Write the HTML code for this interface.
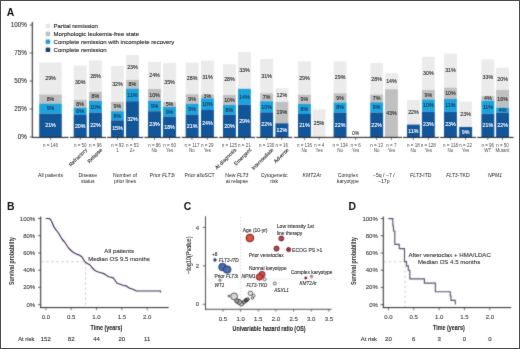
<!DOCTYPE html><html><head><meta charset="utf-8"><title>Figure</title><style>html,body{margin:0;padding:0;background:#fff;overflow:hidden}svg{display:block}text{font-family:"Liberation Sans",sans-serif}</style></head><body>
<div id="w"><svg width="520" height="349" viewBox="0 0 520 349">
<defs><filter id="bl" x="-5%" y="-5%" width="110%" height="110%" color-interpolation-filters="sRGB"><feConvolveMatrix order="3" kernelMatrix="1 2 1 2 14 2 1 2 1" edgeMode="duplicate"/></filter><filter id="tb" x="-5%" y="-5%" width="110%" height="110%" color-interpolation-filters="sRGB"><feConvolveMatrix order="3" kernelMatrix="0 1 0 1 12 1 0 1 0" edgeMode="duplicate"/></filter></defs>
<g filter="url(#bl)">
<rect x="0" y="0" width="520" height="349" fill="#fff"/>
<line x1="32.3" y1="22" x2="32.3" y2="137.6" stroke="#1a1a1a" stroke-width="1"/>
<line x1="29.6" y1="25" x2="32.3" y2="25" stroke="#222" stroke-width="0.7"/>
<line x1="29.6" y1="53" x2="32.3" y2="53" stroke="#222" stroke-width="0.7"/>
<line x1="29.6" y1="81" x2="32.3" y2="81" stroke="#222" stroke-width="0.7"/>
<line x1="29.6" y1="109" x2="32.3" y2="109" stroke="#222" stroke-width="0.7"/>
<line x1="29.6" y1="137" x2="32.3" y2="137" stroke="#222" stroke-width="0.7"/>
<rect x="45.7" y="23.90" width="4.5" height="4.4" fill="#e6e6e6"/>
<rect x="45.7" y="31.70" width="4.5" height="4.4" fill="#bcbcc6"/>
<rect x="45.7" y="39.50" width="4.5" height="4.4" fill="#229bd2"/>
<rect x="45.7" y="47.60" width="4.5" height="4.4" fill="#15406c"/>
<rect x="39.2" y="62.4" width="22.6" height="32.10" fill="#ebebeb"/>
<rect x="39.2" y="94.5" width="22.6" height="9.10" fill="#c0c0c0"/>
<rect x="39.2" y="103.6" width="22.6" height="10.00" fill="#1ea2dc"/>
<rect x="39.2" y="113.6" width="22.6" height="23.40" fill="#12569a"/>
<rect x="73.7" y="65.5" width="13.0" height="34.30" fill="#ebebeb"/>
<rect x="73.7" y="99.8" width="13.0" height="7.80" fill="#c0c0c0"/>
<rect x="73.7" y="107.6" width="13.0" height="7.40" fill="#1ea2dc"/>
<rect x="73.7" y="115.0" width="13.0" height="22.00" fill="#12569a"/>
<rect x="89.0" y="60.4" width="12.9" height="31.60" fill="#ebebeb"/>
<rect x="89.0" y="92.0" width="12.9" height="9.00" fill="#c0c0c0"/>
<rect x="89.0" y="101.0" width="12.9" height="11.50" fill="#1ea2dc"/>
<rect x="89.0" y="112.5" width="12.9" height="24.50" fill="#12569a"/>
<rect x="111.0" y="66.0" width="12.9" height="36.00" fill="#ebebeb"/>
<rect x="111.0" y="102.0" width="12.9" height="9.20" fill="#c0c0c0"/>
<rect x="111.0" y="111.2" width="12.9" height="9.10" fill="#1ea2dc"/>
<rect x="111.0" y="120.3" width="12.9" height="16.70" fill="#12569a"/>
<rect x="126.0" y="54.9" width="12.9" height="25.10" fill="#ebebeb"/>
<rect x="126.0" y="80.0" width="12.9" height="8.60" fill="#c0c0c0"/>
<rect x="126.0" y="88.6" width="12.9" height="12.60" fill="#1ea2dc"/>
<rect x="126.0" y="101.2" width="12.9" height="35.80" fill="#12569a"/>
<rect x="148.0" y="61.9" width="13.0" height="27.10" fill="#ebebeb"/>
<rect x="148.0" y="89.0" width="13.0" height="11.80" fill="#c0c0c0"/>
<rect x="148.0" y="100.8" width="13.0" height="10.40" fill="#1ea2dc"/>
<rect x="148.0" y="111.2" width="13.0" height="25.80" fill="#12569a"/>
<rect x="163.0" y="63.1" width="13.0" height="38.90" fill="#ebebeb"/>
<rect x="163.0" y="102.0" width="13.0" height="5.00" fill="#c0c0c0"/>
<rect x="163.0" y="107.0" width="13.0" height="9.50" fill="#1ea2dc"/>
<rect x="163.0" y="116.5" width="13.0" height="20.50" fill="#12569a"/>
<rect x="185.7" y="62.5" width="12.9" height="31.70" fill="#ebebeb"/>
<rect x="185.7" y="94.2" width="12.9" height="9.60" fill="#c0c0c0"/>
<rect x="185.7" y="103.8" width="12.9" height="10.70" fill="#1ea2dc"/>
<rect x="185.7" y="114.5" width="12.9" height="22.50" fill="#12569a"/>
<rect x="201.0" y="60.5" width="12.9" height="34.00" fill="#ebebeb"/>
<rect x="201.0" y="94.5" width="12.9" height="3.80" fill="#c0c0c0"/>
<rect x="201.0" y="98.3" width="12.9" height="11.70" fill="#1ea2dc"/>
<rect x="201.0" y="110.0" width="12.9" height="27.00" fill="#12569a"/>
<rect x="223.0" y="64.2" width="12.9" height="30.80" fill="#ebebeb"/>
<rect x="223.0" y="95.0" width="12.9" height="10.00" fill="#c0c0c0"/>
<rect x="223.0" y="105.0" width="12.9" height="9.50" fill="#1ea2dc"/>
<rect x="223.0" y="114.5" width="12.9" height="22.50" fill="#12569a"/>
<rect x="238.0" y="52.0" width="12.9" height="36.80" fill="#ebebeb"/>
<rect x="238.0" y="88.8" width="12.9" height="15.90" fill="#1ea2dc"/>
<rect x="238.0" y="104.7" width="12.9" height="32.30" fill="#12569a"/>
<rect x="260.2" y="59.0" width="12.9" height="34.30" fill="#ebebeb"/>
<rect x="260.2" y="93.3" width="12.9" height="7.90" fill="#c0c0c0"/>
<rect x="260.2" y="101.2" width="12.9" height="11.10" fill="#1ea2dc"/>
<rect x="260.2" y="112.3" width="12.9" height="24.70" fill="#12569a"/>
<rect x="275.4" y="88.2" width="13.0" height="13.80" fill="#ebebeb"/>
<rect x="275.4" y="102.0" width="13.0" height="21.30" fill="#c0c0c0"/>
<rect x="275.4" y="123.3" width="13.0" height="13.70" fill="#12569a"/>
<rect x="298.0" y="61.3" width="12.9" height="33.50" fill="#ebebeb"/>
<rect x="298.0" y="94.8" width="12.9" height="9.20" fill="#c0c0c0"/>
<rect x="298.0" y="104.0" width="12.9" height="10.00" fill="#1ea2dc"/>
<rect x="298.0" y="114.0" width="12.9" height="23.00" fill="#12569a"/>
<rect x="312.5" y="109.2" width="13.0" height="27.80" fill="#ebebeb"/>
<rect x="333.6" y="61.3" width="12.9" height="32.00" fill="#ebebeb"/>
<rect x="333.6" y="93.3" width="12.9" height="9.20" fill="#c0c0c0"/>
<rect x="333.6" y="102.5" width="12.9" height="10.00" fill="#1ea2dc"/>
<rect x="333.6" y="112.5" width="12.9" height="24.50" fill="#12569a"/>
<rect x="370.2" y="63.0" width="12.9" height="31.50" fill="#ebebeb"/>
<rect x="370.2" y="94.5" width="12.9" height="7.80" fill="#c0c0c0"/>
<rect x="370.2" y="102.3" width="12.9" height="10.20" fill="#1ea2dc"/>
<rect x="370.2" y="112.5" width="12.9" height="24.50" fill="#12569a"/>
<rect x="385.0" y="73.0" width="12.9" height="16.20" fill="#ebebeb"/>
<rect x="385.0" y="89.2" width="12.9" height="47.80" fill="#c0c0c0"/>
<rect x="407.0" y="100.0" width="12.9" height="24.60" fill="#ebebeb"/>
<rect x="407.0" y="124.6" width="12.9" height="12.40" fill="#12569a"/>
<rect x="421.9" y="56.8" width="12.9" height="33.20" fill="#ebebeb"/>
<rect x="421.9" y="90.0" width="12.9" height="9.50" fill="#c0c0c0"/>
<rect x="421.9" y="99.5" width="12.9" height="12.30" fill="#1ea2dc"/>
<rect x="421.9" y="111.8" width="12.9" height="25.20" fill="#12569a"/>
<rect x="444.0" y="53.5" width="12.9" height="34.20" fill="#ebebeb"/>
<rect x="444.0" y="87.7" width="12.9" height="11.30" fill="#c0c0c0"/>
<rect x="444.0" y="99.0" width="12.9" height="12.80" fill="#1ea2dc"/>
<rect x="444.0" y="111.8" width="12.9" height="25.20" fill="#12569a"/>
<rect x="459.2" y="101.5" width="12.9" height="25.50" fill="#ebebeb"/>
<rect x="459.2" y="127.0" width="12.9" height="10.00" fill="#12569a"/>
<rect x="481.4" y="59.3" width="12.9" height="36.70" fill="#ebebeb"/>
<rect x="481.4" y="96.0" width="12.9" height="4.60" fill="#c0c0c0"/>
<rect x="481.4" y="100.6" width="12.9" height="13.10" fill="#1ea2dc"/>
<rect x="481.4" y="113.7" width="12.9" height="23.30" fill="#12569a"/>
<rect x="496.1" y="67.8" width="12.9" height="22.20" fill="#ebebeb"/>
<rect x="496.1" y="90.0" width="12.9" height="17.60" fill="#c0c0c0"/>
<rect x="496.1" y="107.6" width="12.9" height="4.90" fill="#1ea2dc"/>
<rect x="496.1" y="112.5" width="12.9" height="24.50" fill="#12569a"/>
<line x1="32.30" y1="137.4" x2="68.70" y2="137.4" stroke="#1a1a1a" stroke-width="1"/>
<line x1="50.5" y1="137.3" x2="50.5" y2="140" stroke="#222" stroke-width="0.6"/>
<line x1="70.00" y1="137.4" x2="106.00" y2="137.4" stroke="#1a1a1a" stroke-width="1"/>
<line x1="80.3" y1="137.3" x2="80.3" y2="140" stroke="#222" stroke-width="0.6"/>
<line x1="95.4" y1="137.3" x2="95.4" y2="140" stroke="#222" stroke-width="0.6"/>
<line x1="107.20" y1="137.4" x2="143.20" y2="137.4" stroke="#1a1a1a" stroke-width="1"/>
<line x1="117.5" y1="137.3" x2="117.5" y2="140" stroke="#222" stroke-width="0.6"/>
<line x1="132.4" y1="137.3" x2="132.4" y2="140" stroke="#222" stroke-width="0.6"/>
<line x1="144.40" y1="137.4" x2="180.40" y2="137.4" stroke="#1a1a1a" stroke-width="1"/>
<line x1="154.5" y1="137.3" x2="154.5" y2="140" stroke="#222" stroke-width="0.6"/>
<line x1="169.6" y1="137.3" x2="169.6" y2="140" stroke="#222" stroke-width="0.6"/>
<line x1="181.80" y1="137.4" x2="217.80" y2="137.4" stroke="#1a1a1a" stroke-width="1"/>
<line x1="192.0" y1="137.3" x2="192.0" y2="140" stroke="#222" stroke-width="0.6"/>
<line x1="207.3" y1="137.3" x2="207.3" y2="140" stroke="#222" stroke-width="0.6"/>
<line x1="219.10" y1="137.4" x2="255.10" y2="137.4" stroke="#1a1a1a" stroke-width="1"/>
<line x1="229.4" y1="137.3" x2="229.4" y2="140" stroke="#222" stroke-width="0.6"/>
<line x1="244.4" y1="137.3" x2="244.4" y2="140" stroke="#222" stroke-width="0.6"/>
<line x1="256.30" y1="137.4" x2="292.30" y2="137.4" stroke="#1a1a1a" stroke-width="1"/>
<line x1="266.6" y1="137.3" x2="266.6" y2="140" stroke="#222" stroke-width="0.6"/>
<line x1="281.8" y1="137.3" x2="281.8" y2="140" stroke="#222" stroke-width="0.6"/>
<line x1="294.10" y1="137.4" x2="330.10" y2="137.4" stroke="#1a1a1a" stroke-width="1"/>
<line x1="304.5" y1="137.3" x2="304.5" y2="140" stroke="#222" stroke-width="0.6"/>
<line x1="319.2" y1="137.3" x2="319.2" y2="140" stroke="#222" stroke-width="0.6"/>
<line x1="330.10" y1="137.4" x2="366.10" y2="137.4" stroke="#1a1a1a" stroke-width="1"/>
<line x1="340.1" y1="137.3" x2="340.1" y2="140" stroke="#222" stroke-width="0.6"/>
<line x1="355.6" y1="137.3" x2="355.6" y2="140" stroke="#222" stroke-width="0.6"/>
<line x1="366.00" y1="137.4" x2="402.00" y2="137.4" stroke="#1a1a1a" stroke-width="1"/>
<line x1="376.6" y1="137.3" x2="376.6" y2="140" stroke="#222" stroke-width="0.6"/>
<line x1="391.4" y1="137.3" x2="391.4" y2="140" stroke="#222" stroke-width="0.6"/>
<line x1="403.00" y1="137.4" x2="439.00" y2="137.4" stroke="#1a1a1a" stroke-width="1"/>
<line x1="413.4" y1="137.3" x2="413.4" y2="140" stroke="#222" stroke-width="0.6"/>
<line x1="428.3" y1="137.3" x2="428.3" y2="140" stroke="#222" stroke-width="0.6"/>
<line x1="440.10" y1="137.4" x2="476.10" y2="137.4" stroke="#1a1a1a" stroke-width="1"/>
<line x1="450.5" y1="137.3" x2="450.5" y2="140" stroke="#222" stroke-width="0.6"/>
<line x1="465.6" y1="137.3" x2="465.6" y2="140" stroke="#222" stroke-width="0.6"/>
<line x1="477.20" y1="137.4" x2="513.60" y2="137.4" stroke="#1a1a1a" stroke-width="1"/>
<line x1="487.8" y1="137.3" x2="487.8" y2="140" stroke="#222" stroke-width="0.6"/>
<line x1="502.5" y1="137.3" x2="502.5" y2="140" stroke="#222" stroke-width="0.6"/>
<line x1="40.7" y1="216.5" x2="40.7" y2="308" stroke="#1a1a1a" stroke-width="0.95"/>
<line x1="38.00" y1="218.50" x2="40.7" y2="218.50" stroke="#222" stroke-width="0.7"/>
<line x1="38.00" y1="235.72" x2="40.7" y2="235.72" stroke="#222" stroke-width="0.7"/>
<line x1="38.00" y1="252.94" x2="40.7" y2="252.94" stroke="#222" stroke-width="0.7"/>
<line x1="38.00" y1="270.16" x2="40.7" y2="270.16" stroke="#222" stroke-width="0.7"/>
<line x1="38.00" y1="287.38" x2="40.7" y2="287.38" stroke="#222" stroke-width="0.7"/>
<line x1="38.00" y1="304.60" x2="40.7" y2="304.60" stroke="#222" stroke-width="0.7"/>
<line x1="40.300000000000004" y1="307.6" x2="168.70" y2="307.6" stroke="#1a1a1a" stroke-width="0.95"/>
<line x1="45.80" y1="307.6" x2="45.80" y2="310.3" stroke="#222" stroke-width="0.6"/>
<line x1="71.15" y1="307.6" x2="71.15" y2="310.3" stroke="#222" stroke-width="0.6"/>
<line x1="96.50" y1="307.6" x2="96.50" y2="310.3" stroke="#222" stroke-width="0.6"/>
<line x1="121.85" y1="307.6" x2="121.85" y2="310.3" stroke="#222" stroke-width="0.6"/>
<line x1="147.20" y1="307.6" x2="147.20" y2="310.3" stroke="#222" stroke-width="0.6"/>
<path d="M41.2 261.7 H85.6 V307" fill="none" stroke="#b8b8b8" stroke-width="0.7" stroke-dasharray="2.6 2.4"/>
<polyline points="45.8,218.5 49.2,218.5 50.5,219.5 51.5,221 52.5,223.5 53.8,226.7 56,229.8 58.5,233 60.5,236.5 62.3,239.5 64.2,241.5 66.9,245.5 69,248.5 71.5,251 74,252.8 77.3,254.4 79.5,255.2 81.9,256.8 83.5,259.5 85.4,262.3 87.5,263.5 90,265 92,267.5 94.6,270.3 97,271.5 99.2,272.3 101,272.8 103.8,273.6 106.7,275.5 109.4,277 112.8,277.6 114.8,280 116.8,283 120.2,284.2 122.9,285.2 126.2,285.9 129.6,288.2 133,289.3 136.3,291 160.6,291" fill="none" stroke="#3c2c52" stroke-width="1.15" stroke-linejoin="round"/>
<line x1="160.6" y1="290.5" x2="160.6" y2="292.8" stroke="#45335a" stroke-width="0.8"/>
<line x1="383.3" y1="216.5" x2="383.3" y2="308" stroke="#1a1a1a" stroke-width="0.95"/>
<line x1="380.60" y1="218.50" x2="383.3" y2="218.50" stroke="#222" stroke-width="0.7"/>
<line x1="380.60" y1="235.72" x2="383.3" y2="235.72" stroke="#222" stroke-width="0.7"/>
<line x1="380.60" y1="252.94" x2="383.3" y2="252.94" stroke="#222" stroke-width="0.7"/>
<line x1="380.60" y1="270.16" x2="383.3" y2="270.16" stroke="#222" stroke-width="0.7"/>
<line x1="380.60" y1="287.38" x2="383.3" y2="287.38" stroke="#222" stroke-width="0.7"/>
<line x1="380.60" y1="304.60" x2="383.3" y2="304.60" stroke="#222" stroke-width="0.7"/>
<line x1="382.90000000000003" y1="307.6" x2="511.30" y2="307.6" stroke="#1a1a1a" stroke-width="0.95"/>
<line x1="388.40" y1="307.6" x2="388.40" y2="310.3" stroke="#222" stroke-width="0.6"/>
<line x1="413.75" y1="307.6" x2="413.75" y2="310.3" stroke="#222" stroke-width="0.6"/>
<line x1="439.10" y1="307.6" x2="439.10" y2="310.3" stroke="#222" stroke-width="0.6"/>
<line x1="464.45" y1="307.6" x2="464.45" y2="310.3" stroke="#222" stroke-width="0.6"/>
<line x1="489.80" y1="307.6" x2="489.80" y2="310.3" stroke="#222" stroke-width="0.6"/>
<path d="M383.8 261.8 H405.1 V307" fill="none" stroke="#b8b8b8" stroke-width="0.7" stroke-dasharray="2.6 2.4"/>
<path d="M388.3 218.6 H392.8 V226 H393.5 V231 H394.8 V244.3 H399.3 V248.6 H404.5 V261.6 H406.5 V265.9 H408.3 V270.2 H409.8 V278.8 H424.4 V283.1 H435.4 V291.7 H450.3 V296 H451 V300.3 H455.3 V304.6" fill="none" stroke="#5a4f6e" stroke-width="1.15"/>
<line x1="205.5" y1="216.2" x2="205.5" y2="309.7" stroke="#222" stroke-width="0.8"/>
<line x1="202.7" y1="304.30" x2="205.5" y2="304.30" stroke="#222" stroke-width="0.7"/>
<line x1="202.7" y1="265.86" x2="205.5" y2="265.86" stroke="#222" stroke-width="0.7"/>
<line x1="202.7" y1="227.42" x2="205.5" y2="227.42" stroke="#222" stroke-width="0.7"/>
<line x1="205.1" y1="309.3" x2="331.6" y2="309.3" stroke="#222" stroke-width="0.8"/>
<line x1="222.95" y1="309.3" x2="222.95" y2="311.8" stroke="#222" stroke-width="0.6"/>
<line x1="240.60" y1="309.3" x2="240.60" y2="311.8" stroke="#222" stroke-width="0.6"/>
<line x1="258.25" y1="309.3" x2="258.25" y2="311.8" stroke="#222" stroke-width="0.6"/>
<line x1="275.90" y1="309.3" x2="275.90" y2="311.8" stroke="#222" stroke-width="0.6"/>
<line x1="293.55" y1="309.3" x2="293.55" y2="311.8" stroke="#222" stroke-width="0.6"/>
<line x1="311.20" y1="309.3" x2="311.20" y2="311.8" stroke="#222" stroke-width="0.6"/>
<line x1="328.85" y1="309.3" x2="328.85" y2="311.8" stroke="#222" stroke-width="0.6"/>
<line x1="240.5" y1="217" x2="240.5" y2="309" stroke="#c4c4c4" stroke-width="0.6" stroke-dasharray="1.6 1.6"/>
<line x1="205.5" y1="279.1" x2="336" y2="279.1" stroke="#c4c4c4" stroke-width="0.6" stroke-dasharray="1.6 1.6"/>
<circle cx="241.4" cy="303.7" r="2.3" fill="#d0d0d0" stroke="#1a1a1a" stroke-width="0.7"/>
<circle cx="239.0" cy="301.9" r="2.5" fill="#c4c4c4" stroke="#1a1a1a" stroke-width="0.7"/>
<circle cx="236.9" cy="300.9" r="2.2" fill="#9a9a9a" stroke="#1a1a1a" stroke-width="0.7"/>
<circle cx="244.0" cy="302.0" r="1.8" fill="#aaaaaa" stroke="#1a1a1a" stroke-width="0.7"/>
<circle cx="246.2" cy="300.2" r="1.9" fill="#505050" stroke="#1a1a1a" stroke-width="0.7"/>
<circle cx="247.8" cy="299.2" r="1.5" fill="#888888" stroke="#1a1a1a" stroke-width="0.7"/>
<circle cx="234.1" cy="296.4" r="3.4" fill="#d8d8d8" stroke="#1a1a1a" stroke-width="0.7"/>
<circle cx="228.9" cy="296.0" r="1.0" fill="#ffffff" stroke="#1a1a1a" stroke-width="0.7"/>
<circle cx="250.4" cy="293.3" r="2.2" fill="#eeeeee" stroke="#1a1a1a" stroke-width="0.7"/>
<circle cx="252.5" cy="298.1" r="1.2" fill="#ffffff" stroke="#1a1a1a" stroke-width="0.7"/>
<circle cx="253.5" cy="295.7" r="1.5" fill="#ffffff" stroke="#1a1a1a" stroke-width="0.7"/>
<circle cx="220" cy="280.3" r="1.1" fill="#fff" stroke="#222" stroke-width="0.7"/>
<circle cx="264.6" cy="279.3" r="1.5" fill="#fff" stroke="#222" stroke-width="0.7"/>
<circle cx="274.8" cy="283.5" r="1.5" fill="#fff" stroke="#222" stroke-width="0.7"/>
<circle cx="215" cy="260" r="1.4" fill="#3c4f86" stroke="#1d2650" stroke-width="0.5"/>
<circle cx="222.5" cy="267" r="3.8" fill="#4a6cb0" stroke="#1a2550" stroke-width="0.8"/>
<circle cx="227.2" cy="269.6" r="3.8" fill="#4a6cb0" stroke="#1a2550" stroke-width="0.8"/>
<circle cx="249.9" cy="238" r="3.8" fill="#e3553a" stroke="#6a1818" stroke-width="1"/>
<circle cx="281.3" cy="238.5" r="2.4" fill="#c04450" stroke="#4a1018" stroke-width="0.9"/>
<circle cx="276.5" cy="248.6" r="2.5" fill="#c04450" stroke="#4a1018" stroke-width="0.9"/>
<circle cx="288.6" cy="249.6" r="2.0" fill="#b03848" stroke="#4a1018" stroke-width="0.9"/>
<circle cx="262" cy="274.4" r="3.1" fill="#d84848" stroke="#6a1a1a" stroke-width="0.8"/>
<circle cx="259.4" cy="277" r="3.2" fill="#d84848" stroke="#6a1a1a" stroke-width="0.8"/>
<circle cx="305.8" cy="277.9" r="1.2" fill="#6a2a36" stroke="#3a1520" stroke-width="0.4"/>
<circle cx="311.5" cy="276.4" r="1.2" fill="#c89098" stroke="#5a1a20" stroke-width="0.5"/>
</g><g filter="url(#tb)">
<text x="6.8" y="15.6" font-size="10.4" font-weight="bold" fill="#111">A</text>
<text x="7.0" y="209.9" font-size="10.4" font-weight="bold" fill="#111">B</text>
<text x="183.8" y="209.9" font-size="10.4" font-weight="bold" fill="#111">C</text>
<text x="348.6" y="209.9" font-size="10.4" font-weight="bold" fill="#111">D</text>
<text x="26.9" y="27.2" font-size="6.3" fill="#3a3a3a" text-anchor="end" stroke="#3a3a3a" stroke-width="0.12">100%</text>
<text x="26.9" y="55.2" font-size="6.3" fill="#3a3a3a" text-anchor="end" stroke="#3a3a3a" stroke-width="0.12">75%</text>
<text x="26.9" y="83.2" font-size="6.3" fill="#3a3a3a" text-anchor="end" stroke="#3a3a3a" stroke-width="0.12">50%</text>
<text x="26.9" y="111.2" font-size="6.3" fill="#3a3a3a" text-anchor="end" stroke="#3a3a3a" stroke-width="0.12">25%</text>
<text x="26.9" y="139.2" font-size="6.3" fill="#3a3a3a" text-anchor="end" stroke="#3a3a3a" stroke-width="0.12">0%</text>
<text x="53.6" y="28.200000000000003" font-size="6" fill="#222" stroke="#222" stroke-width="0.12">Partial remission</text>
<text x="53.6" y="36.0" font-size="6" fill="#222" stroke="#222" stroke-width="0.12">Morphologic leukemia-free state</text>
<text x="53.6" y="43.800000000000004" font-size="6" fill="#222" stroke="#222" stroke-width="0.12">Complete remission with incomplete recovery</text>
<text x="53.6" y="51.9" font-size="6" fill="#222" stroke="#222" stroke-width="0.12">Complete remission</text>
<text x="50.50" y="127.10" font-size="5.3" fill="#fff" text-anchor="middle" stroke="#fff" stroke-width="0.12">21%</text>
<text x="50.50" y="110.40" font-size="5.3" fill="#1b3557" text-anchor="middle" stroke="#1b3557" stroke-width="0.12">9%</text>
<text x="50.50" y="100.85" font-size="5.3" fill="#2e2e2e" text-anchor="middle" stroke="#2e2e2e" stroke-width="0.12">8%</text>
<text x="50.50" y="80.25" font-size="5.3" fill="#2e2e2e" text-anchor="middle" stroke="#2e2e2e" stroke-width="0.12">29%</text>
<text x="80.20" y="127.80" font-size="5.3" fill="#fff" text-anchor="middle" stroke="#fff" stroke-width="0.12">20%</text>
<text x="80.20" y="113.10" font-size="5.3" fill="#1b3557" text-anchor="middle" stroke="#1b3557" stroke-width="0.12">6%</text>
<text x="80.20" y="105.50" font-size="5.3" fill="#2e2e2e" text-anchor="middle" stroke="#2e2e2e" stroke-width="0.12">8%</text>
<text x="80.20" y="84.45" font-size="5.3" fill="#2e2e2e" text-anchor="middle" stroke="#2e2e2e" stroke-width="0.12">30%</text>
<text x="95.45" y="126.55" font-size="5.3" fill="#fff" text-anchor="middle" stroke="#fff" stroke-width="0.12">22%</text>
<text x="95.45" y="108.55" font-size="5.3" fill="#1b3557" text-anchor="middle" stroke="#1b3557" stroke-width="0.12">10%</text>
<text x="95.45" y="98.30" font-size="5.3" fill="#2e2e2e" text-anchor="middle" stroke="#2e2e2e" stroke-width="0.12">8%</text>
<text x="95.45" y="78.00" font-size="5.3" fill="#2e2e2e" text-anchor="middle" stroke="#2e2e2e" stroke-width="0.12">28%</text>
<text x="117.45" y="130.45" font-size="5.3" fill="#fff" text-anchor="middle" stroke="#fff" stroke-width="0.12">15%</text>
<text x="117.45" y="117.55" font-size="5.3" fill="#1b3557" text-anchor="middle" stroke="#1b3557" stroke-width="0.12">8%</text>
<text x="117.45" y="108.40" font-size="5.3" fill="#2e2e2e" text-anchor="middle" stroke="#2e2e2e" stroke-width="0.12">9%</text>
<text x="117.45" y="85.80" font-size="5.3" fill="#2e2e2e" text-anchor="middle" stroke="#2e2e2e" stroke-width="0.12">32%</text>
<text x="132.45" y="120.90" font-size="5.3" fill="#fff" text-anchor="middle" stroke="#fff" stroke-width="0.12">32%</text>
<text x="132.45" y="96.70" font-size="5.3" fill="#1b3557" text-anchor="middle" stroke="#1b3557" stroke-width="0.12">11%</text>
<text x="132.45" y="86.10" font-size="5.3" fill="#2e2e2e" text-anchor="middle" stroke="#2e2e2e" stroke-width="0.12">8%</text>
<text x="132.45" y="69.25" font-size="5.3" fill="#2e2e2e" text-anchor="middle" stroke="#2e2e2e" stroke-width="0.12">23%</text>
<text x="154.50" y="125.90" font-size="5.3" fill="#fff" text-anchor="middle" stroke="#fff" stroke-width="0.12">23%</text>
<text x="154.50" y="107.80" font-size="5.3" fill="#1b3557" text-anchor="middle" stroke="#1b3557" stroke-width="0.12">9%</text>
<text x="154.50" y="96.70" font-size="5.3" fill="#2e2e2e" text-anchor="middle" stroke="#2e2e2e" stroke-width="0.12">10%</text>
<text x="154.50" y="77.25" font-size="5.3" fill="#2e2e2e" text-anchor="middle" stroke="#2e2e2e" stroke-width="0.12">24%</text>
<text x="169.50" y="128.55" font-size="5.3" fill="#fff" text-anchor="middle" stroke="#fff" stroke-width="0.12">18%</text>
<text x="169.50" y="113.55" font-size="5.3" fill="#1b3557" text-anchor="middle" stroke="#1b3557" stroke-width="0.12">9%</text>
<text x="169.50" y="106.30" font-size="5.3" fill="#2e2e2e" text-anchor="middle" stroke="#2e2e2e" stroke-width="0.12">5%</text>
<text x="169.50" y="84.35" font-size="5.3" fill="#2e2e2e" text-anchor="middle" stroke="#2e2e2e" stroke-width="0.12">35%</text>
<text x="192.15" y="127.55" font-size="5.3" fill="#fff" text-anchor="middle" stroke="#fff" stroke-width="0.12">21%</text>
<text x="192.15" y="110.95" font-size="5.3" fill="#1b3557" text-anchor="middle" stroke="#1b3557" stroke-width="0.12">9%</text>
<text x="192.15" y="100.80" font-size="5.3" fill="#2e2e2e" text-anchor="middle" stroke="#2e2e2e" stroke-width="0.12">9%</text>
<text x="192.15" y="80.15" font-size="5.3" fill="#2e2e2e" text-anchor="middle" stroke="#2e2e2e" stroke-width="0.12">28%</text>
<text x="207.45" y="125.30" font-size="5.3" fill="#fff" text-anchor="middle" stroke="#fff" stroke-width="0.12">24%</text>
<text x="207.45" y="105.95" font-size="5.3" fill="#1b3557" text-anchor="middle" stroke="#1b3557" stroke-width="0.12">10%</text>
<text x="207.45" y="98.20" font-size="5.3" fill="#2e2e2e" text-anchor="middle" stroke="#2e2e2e" stroke-width="0.12">3%</text>
<text x="207.45" y="79.30" font-size="5.3" fill="#2e2e2e" text-anchor="middle" stroke="#2e2e2e" stroke-width="0.12">31%</text>
<text x="229.45" y="127.55" font-size="5.3" fill="#fff" text-anchor="middle" stroke="#fff" stroke-width="0.12">20%</text>
<text x="229.45" y="111.55" font-size="5.3" fill="#1b3557" text-anchor="middle" stroke="#1b3557" stroke-width="0.12">8%</text>
<text x="229.45" y="101.80" font-size="5.3" fill="#2e2e2e" text-anchor="middle" stroke="#2e2e2e" stroke-width="0.12">10%</text>
<text x="229.45" y="81.40" font-size="5.3" fill="#2e2e2e" text-anchor="middle" stroke="#2e2e2e" stroke-width="0.12">28%</text>
<text x="244.45" y="122.65" font-size="5.3" fill="#fff" text-anchor="middle" stroke="#fff" stroke-width="0.12">29%</text>
<text x="244.45" y="98.55" font-size="5.3" fill="#1b3557" text-anchor="middle" stroke="#1b3557" stroke-width="0.12">14%</text>
<text x="244.45" y="72.20" font-size="5.3" fill="#2e2e2e" text-anchor="middle" stroke="#2e2e2e" stroke-width="0.12">33%</text>
<text x="266.65" y="126.45" font-size="5.3" fill="#fff" text-anchor="middle" stroke="#fff" stroke-width="0.12">22%</text>
<text x="266.65" y="108.55" font-size="5.3" fill="#1b3557" text-anchor="middle" stroke="#1b3557" stroke-width="0.12">10%</text>
<text x="266.65" y="99.05" font-size="5.3" fill="#2e2e2e" text-anchor="middle" stroke="#2e2e2e" stroke-width="0.12">7%</text>
<text x="266.65" y="77.95" font-size="5.3" fill="#2e2e2e" text-anchor="middle" stroke="#2e2e2e" stroke-width="0.12">31%</text>
<text x="281.90" y="131.95" font-size="5.3" fill="#fff" text-anchor="middle" stroke="#fff" stroke-width="0.12">12%</text>
<text x="281.90" y="114.45" font-size="5.3" fill="#2e2e2e" text-anchor="middle" stroke="#2e2e2e" stroke-width="0.12">19%</text>
<text x="281.90" y="96.90" font-size="5.3" fill="#2e2e2e" text-anchor="middle" stroke="#2e2e2e" stroke-width="0.12">12%</text>
<text x="304.45" y="127.30" font-size="5.3" fill="#fff" text-anchor="middle" stroke="#fff" stroke-width="0.12">21%</text>
<text x="304.45" y="110.80" font-size="5.3" fill="#1b3557" text-anchor="middle" stroke="#1b3557" stroke-width="0.12">8%</text>
<text x="304.45" y="101.20" font-size="5.3" fill="#2e2e2e" text-anchor="middle" stroke="#2e2e2e" stroke-width="0.12">9%</text>
<text x="304.45" y="79.85" font-size="5.3" fill="#2e2e2e" text-anchor="middle" stroke="#2e2e2e" stroke-width="0.12">29%</text>
<text x="319.00" y="124.90" font-size="5.3" fill="#2e2e2e" text-anchor="middle" stroke="#2e2e2e" stroke-width="0.12">25%</text>
<text x="340.05" y="126.55" font-size="5.3" fill="#fff" text-anchor="middle" stroke="#fff" stroke-width="0.12">22%</text>
<text x="340.05" y="109.30" font-size="5.3" fill="#1b3557" text-anchor="middle" stroke="#1b3557" stroke-width="0.12">8%</text>
<text x="340.05" y="99.70" font-size="5.3" fill="#2e2e2e" text-anchor="middle" stroke="#2e2e2e" stroke-width="0.12">9%</text>
<text x="340.05" y="79.10" font-size="5.3" fill="#2e2e2e" text-anchor="middle" stroke="#2e2e2e" stroke-width="0.12">29%</text>
<text x="376.65" y="126.55" font-size="5.3" fill="#fff" text-anchor="middle" stroke="#fff" stroke-width="0.12">22%</text>
<text x="376.65" y="109.20" font-size="5.3" fill="#1b3557" text-anchor="middle" stroke="#1b3557" stroke-width="0.12">9%</text>
<text x="376.65" y="100.20" font-size="5.3" fill="#2e2e2e" text-anchor="middle" stroke="#2e2e2e" stroke-width="0.12">7%</text>
<text x="376.65" y="80.55" font-size="5.3" fill="#2e2e2e" text-anchor="middle" stroke="#2e2e2e" stroke-width="0.12">28%</text>
<text x="391.45" y="114.90" font-size="5.3" fill="#2e2e2e" text-anchor="middle" stroke="#2e2e2e" stroke-width="0.12">43%</text>
<text x="391.45" y="82.90" font-size="5.3" fill="#2e2e2e" text-anchor="middle" stroke="#2e2e2e" stroke-width="0.12">14%</text>
<text x="413.45" y="132.60" font-size="5.3" fill="#fff" text-anchor="middle" stroke="#fff" stroke-width="0.12">11%</text>
<text x="413.45" y="114.10" font-size="5.3" fill="#2e2e2e" text-anchor="middle" stroke="#2e2e2e" stroke-width="0.12">22%</text>
<text x="428.35" y="126.20" font-size="5.3" fill="#fff" text-anchor="middle" stroke="#fff" stroke-width="0.12">23%</text>
<text x="428.35" y="107.45" font-size="5.3" fill="#1b3557" text-anchor="middle" stroke="#1b3557" stroke-width="0.12">10%</text>
<text x="428.35" y="96.55" font-size="5.3" fill="#2e2e2e" text-anchor="middle" stroke="#2e2e2e" stroke-width="0.12">9%</text>
<text x="428.35" y="75.20" font-size="5.3" fill="#2e2e2e" text-anchor="middle" stroke="#2e2e2e" stroke-width="0.12">30%</text>
<text x="450.45" y="126.20" font-size="5.3" fill="#fff" text-anchor="middle" stroke="#fff" stroke-width="0.12">23%</text>
<text x="450.45" y="107.20" font-size="5.3" fill="#1b3557" text-anchor="middle" stroke="#1b3557" stroke-width="0.12">11%</text>
<text x="450.45" y="95.15" font-size="5.3" fill="#2e2e2e" text-anchor="middle" stroke="#2e2e2e" stroke-width="0.12">10%</text>
<text x="450.45" y="72.40" font-size="5.3" fill="#2e2e2e" text-anchor="middle" stroke="#2e2e2e" stroke-width="0.12">31%</text>
<text x="465.65" y="133.80" font-size="5.3" fill="#fff" text-anchor="middle" stroke="#fff" stroke-width="0.12">9%</text>
<text x="465.65" y="116.05" font-size="5.3" fill="#2e2e2e" text-anchor="middle" stroke="#2e2e2e" stroke-width="0.12">23%</text>
<text x="487.85" y="127.15" font-size="5.3" fill="#fff" text-anchor="middle" stroke="#fff" stroke-width="0.12">21%</text>
<text x="487.85" y="108.95" font-size="5.3" fill="#1b3557" text-anchor="middle" stroke="#1b3557" stroke-width="0.12">11%</text>
<text x="487.85" y="100.10" font-size="5.3" fill="#2e2e2e" text-anchor="middle" stroke="#2e2e2e" stroke-width="0.12">4%</text>
<text x="487.85" y="79.45" font-size="5.3" fill="#2e2e2e" text-anchor="middle" stroke="#2e2e2e" stroke-width="0.12">33%</text>
<text x="502.55" y="126.55" font-size="5.3" fill="#fff" text-anchor="middle" stroke="#fff" stroke-width="0.12">22%</text>
<text x="502.55" y="111.85" font-size="5.3" fill="#1b3557" text-anchor="middle" stroke="#1b3557" stroke-width="0.12">4%</text>
<text x="502.55" y="100.60" font-size="5.3" fill="#2e2e2e" text-anchor="middle" stroke="#2e2e2e" stroke-width="0.12">16%</text>
<text x="502.55" y="80.70" font-size="5.3" fill="#2e2e2e" text-anchor="middle" stroke="#2e2e2e" stroke-width="0.12">20%</text>
<text x="355.6" y="135.2" font-size="5" fill="#444" text-anchor="middle" stroke="#444" stroke-width="0.12">0%</text>
<text x="50.5" y="147.2" font-size="4.5" fill="#4a4a4a" stroke="none" text-anchor="middle">n = 146</text>
<text x="50.5" y="176.80" font-size="5.1" fill="#1a1a1a" stroke="none" text-anchor="middle">All patients</text>
<text x="80.3" y="147.2" font-size="4.5" fill="#4a4a4a" stroke="none" text-anchor="middle">n = 50</text>
<text x="87.60" y="150.20" font-size="5.1" fill="#333" text-anchor="end" transform="rotate(-45 87.60 150.20)" stroke="#333" stroke-width="0.12">Refractory</text>
<text x="95.4" y="147.2" font-size="4.5" fill="#4a4a4a" stroke="none" text-anchor="middle">n = 96</text>
<text x="102.70" y="150.20" font-size="5.1" fill="#333" text-anchor="end" transform="rotate(-45 102.70 150.20)" stroke="#333" stroke-width="0.12">Relapse</text>
<text x="87.8" y="176.80" font-size="5.1" fill="#1a1a1a" stroke="none" text-anchor="middle">Disease</text>
<text x="87.8" y="183.40" font-size="5.1" fill="#1a1a1a" stroke="none" text-anchor="middle">status</text>
<text x="117.5" y="147.2" font-size="4.5" fill="#4a4a4a" stroke="none" text-anchor="middle">n = 93</text>
<text x="117.5" y="152.2" font-size="4.5" fill="#4a4a4a" stroke="none" text-anchor="middle">1</text>
<text x="132.4" y="147.2" font-size="4.5" fill="#4a4a4a" stroke="none" text-anchor="middle">n = 53</text>
<text x="132.4" y="152.2" font-size="4.5" fill="#4a4a4a" stroke="none" text-anchor="middle">2+</text>
<text x="125.0" y="176.80" font-size="5.1" fill="#1a1a1a" stroke="none" text-anchor="middle">Number of</text>
<text x="125.0" y="183.40" font-size="5.1" fill="#1a1a1a" stroke="none" text-anchor="middle">prior lines</text>
<text x="154.5" y="147.2" font-size="4.5" fill="#4a4a4a" stroke="none" text-anchor="middle">n = 86</text>
<text x="154.5" y="152.2" font-size="4.5" fill="#4a4a4a" stroke="none" text-anchor="middle">No</text>
<text x="169.6" y="147.2" font-size="4.5" fill="#4a4a4a" stroke="none" text-anchor="middle">n = 60</text>
<text x="169.6" y="152.2" font-size="4.5" fill="#4a4a4a" stroke="none" text-anchor="middle">Yes</text>
<text x="162.2" y="176.80" font-size="5.1" fill="#1a1a1a" stroke="none" text-anchor="middle">Prior <tspan font-style="italic">FLT3</tspan>i</text>
<text x="192.0" y="147.2" font-size="4.5" fill="#4a4a4a" stroke="none" text-anchor="middle">n = 117</text>
<text x="192.0" y="152.2" font-size="4.5" fill="#4a4a4a" stroke="none" text-anchor="middle">No</text>
<text x="207.3" y="147.2" font-size="4.5" fill="#4a4a4a" stroke="none" text-anchor="middle">n = 29</text>
<text x="207.3" y="152.2" font-size="4.5" fill="#4a4a4a" stroke="none" text-anchor="middle">Yes</text>
<text x="199.6" y="176.80" font-size="5.1" fill="#1a1a1a" stroke="none" text-anchor="middle">Prior alloSCT</text>
<text x="229.4" y="147.2" font-size="4.5" fill="#4a4a4a" stroke="none" text-anchor="middle">n = 125</text>
<text x="236.70" y="150.20" font-size="5.1" fill="#333" text-anchor="end" transform="rotate(-45 236.70 150.20)" stroke="#333" stroke-width="0.12">At diagnosis</text>
<text x="244.4" y="147.2" font-size="4.5" fill="#4a4a4a" stroke="none" text-anchor="middle">n = 21</text>
<text x="251.70" y="150.20" font-size="5.1" fill="#333" text-anchor="end" transform="rotate(-45 251.70 150.20)" stroke="#333" stroke-width="0.12">Emergent</text>
<text x="236.9" y="176.80" font-size="5.1" fill="#1a1a1a" stroke="none" text-anchor="middle">New <tspan font-style="italic">FLT3</tspan></text>
<text x="236.9" y="183.40" font-size="5.1" fill="#1a1a1a" stroke="none" text-anchor="middle">at relapse</text>
<text x="266.6" y="147.2" font-size="4.5" fill="#4a4a4a" stroke="none" text-anchor="middle">n = 130</text>
<text x="273.90" y="150.20" font-size="5.1" fill="#333" text-anchor="end" transform="rotate(-45 273.90 150.20)" stroke="#333" stroke-width="0.12">Intermediate</text>
<text x="281.8" y="147.2" font-size="4.5" fill="#4a4a4a" stroke="none" text-anchor="middle">n = 16</text>
<text x="289.10" y="150.20" font-size="5.1" fill="#333" text-anchor="end" transform="rotate(-45 289.10 150.20)" stroke="#333" stroke-width="0.12">Adverse</text>
<text x="274.1" y="176.80" font-size="5.1" fill="#1a1a1a" stroke="none" text-anchor="middle">Cytogenetic</text>
<text x="274.1" y="183.40" font-size="5.1" fill="#1a1a1a" stroke="none" text-anchor="middle">risk</text>
<text x="304.5" y="147.2" font-size="4.5" fill="#4a4a4a" stroke="none" text-anchor="middle">n = 136</text>
<text x="304.5" y="152.2" font-size="4.5" fill="#4a4a4a" stroke="none" text-anchor="middle">No</text>
<text x="319.2" y="147.2" font-size="4.5" fill="#4a4a4a" stroke="none" text-anchor="middle">n = 4</text>
<text x="319.2" y="152.2" font-size="4.5" fill="#4a4a4a" stroke="none" text-anchor="middle">Yes</text>
<text x="311.9" y="176.80" font-size="5.1" fill="#1a1a1a" stroke="none" text-anchor="middle"><tspan font-style="italic">KMT2A</tspan>r</text>
<text x="340.1" y="147.2" font-size="4.5" fill="#4a4a4a" stroke="none" text-anchor="middle">n = 134</text>
<text x="340.1" y="152.2" font-size="4.5" fill="#4a4a4a" stroke="none" text-anchor="middle">No</text>
<text x="355.6" y="147.2" font-size="4.5" fill="#4a4a4a" stroke="none" text-anchor="middle">n = 6</text>
<text x="355.6" y="152.2" font-size="4.5" fill="#4a4a4a" stroke="none" text-anchor="middle">Yes</text>
<text x="347.9" y="176.80" font-size="5.1" fill="#1a1a1a" stroke="none" text-anchor="middle">Complex</text>
<text x="347.9" y="183.40" font-size="5.1" fill="#1a1a1a" stroke="none" text-anchor="middle">karyotype</text>
<text x="376.6" y="147.2" font-size="4.5" fill="#4a4a4a" stroke="none" text-anchor="middle">n = 13</text>
<text x="376.6" y="152.2" font-size="4.5" fill="#4a4a4a" stroke="none" text-anchor="middle">No</text>
<text x="391.4" y="147.2" font-size="4.5" fill="#4a4a4a" stroke="none" text-anchor="middle">n = 7</text>
<text x="391.4" y="152.2" font-size="4.5" fill="#4a4a4a" stroke="none" text-anchor="middle">Yes</text>
<text x="383.8" y="176.80" font-size="5.1" fill="#1a1a1a" stroke="none" text-anchor="middle">−5q / −7 /</text>
<text x="383.8" y="183.40" font-size="5.1" fill="#1a1a1a" stroke="none" text-anchor="middle">−17p</text>
<text x="413.4" y="147.2" font-size="4.5" fill="#4a4a4a" stroke="none" text-anchor="middle">n = 18</text>
<text x="413.4" y="152.2" font-size="4.5" fill="#4a4a4a" stroke="none" text-anchor="middle">No</text>
<text x="428.3" y="147.2" font-size="4.5" fill="#4a4a4a" stroke="none" text-anchor="middle">n = 128</text>
<text x="428.3" y="152.2" font-size="4.5" fill="#4a4a4a" stroke="none" text-anchor="middle">Yes</text>
<text x="420.8" y="176.80" font-size="5.1" fill="#1a1a1a" stroke="none" text-anchor="middle"><tspan font-style="italic">FLT3</tspan>-ITD</text>
<text x="450.5" y="147.2" font-size="4.5" fill="#4a4a4a" stroke="none" text-anchor="middle">n = 118</text>
<text x="450.5" y="152.2" font-size="4.5" fill="#4a4a4a" stroke="none" text-anchor="middle">No</text>
<text x="465.6" y="147.2" font-size="4.5" fill="#4a4a4a" stroke="none" text-anchor="middle">n = 22</text>
<text x="465.6" y="152.2" font-size="4.5" fill="#4a4a4a" stroke="none" text-anchor="middle">Yes</text>
<text x="457.9" y="176.80" font-size="5.1" fill="#1a1a1a" stroke="none" text-anchor="middle"><tspan font-style="italic">FLT3</tspan>-TKD</text>
<text x="487.8" y="147.2" font-size="4.5" fill="#4a4a4a" stroke="none" text-anchor="middle">n = 96</text>
<text x="487.8" y="152.2" font-size="4.5" fill="#4a4a4a" stroke="none" text-anchor="middle">WT</text>
<text x="502.5" y="147.2" font-size="4.5" fill="#4a4a4a" stroke="none" text-anchor="middle">n = 50</text>
<text x="502.5" y="152.2" font-size="4.5" fill="#4a4a4a" stroke="none" text-anchor="middle">Mutant</text>
<text x="495.0" y="176.80" font-size="5.1" fill="#1a1a1a" stroke="none" text-anchor="middle"><tspan font-style="italic">NPM1</tspan></text>
<text x="35.20" y="220.60" font-size="6" fill="#444" text-anchor="end" stroke="#444" stroke-width="0.12">100%</text>
<text x="35.20" y="237.82" font-size="6" fill="#444" text-anchor="end" stroke="#444" stroke-width="0.12">80%</text>
<text x="35.20" y="255.04" font-size="6" fill="#444" text-anchor="end" stroke="#444" stroke-width="0.12">60%</text>
<text x="35.20" y="272.26" font-size="6" fill="#444" text-anchor="end" stroke="#444" stroke-width="0.12">40%</text>
<text x="35.20" y="289.48" font-size="6" fill="#444" text-anchor="end" stroke="#444" stroke-width="0.12">20%</text>
<text x="35.20" y="306.70" font-size="6" fill="#444" text-anchor="end" stroke="#444" stroke-width="0.12">0%</text>
<text x="45.80" y="318.9" font-size="6" fill="#444" text-anchor="middle" stroke="#444" stroke-width="0.12">0.0</text>
<text x="71.15" y="318.9" font-size="6" fill="#444" text-anchor="middle" stroke="#444" stroke-width="0.12">0.5</text>
<text x="96.50" y="318.9" font-size="6" fill="#444" text-anchor="middle" stroke="#444" stroke-width="0.12">1.0</text>
<text x="121.85" y="318.9" font-size="6" fill="#444" text-anchor="middle" stroke="#444" stroke-width="0.12">1.5</text>
<text x="147.20" y="318.9" font-size="6" fill="#444" text-anchor="middle" stroke="#444" stroke-width="0.12">2.0</text>
<text x="106.40" y="330.4" font-size="8" font-weight="bold" fill="#2a2a2a" stroke="#2a2a2a" stroke-width="0.12" text-anchor="middle" textLength="31.6" lengthAdjust="spacingAndGlyphs">Time (years)</text>
<text x="13.70" y="261" font-size="6.6" font-weight="bold" fill="#333" text-anchor="middle" textLength="48" lengthAdjust="spacingAndGlyphs" transform="rotate(-90 13.70 261)">Survival probability</text>
<text x="18.20" y="340.9" font-size="5.8" fill="#333" textLength="16.2" lengthAdjust="spacingAndGlyphs" stroke="#333" stroke-width="0.12">At risk</text>
<text x="45.80" y="340.9" font-size="6" fill="#333" text-anchor="middle" stroke="#333" stroke-width="0.12">152</text>
<text x="71.15" y="340.9" font-size="6" fill="#333" text-anchor="middle" stroke="#333" stroke-width="0.12">82</text>
<text x="96.50" y="340.9" font-size="6" fill="#333" text-anchor="middle" stroke="#333" stroke-width="0.12">44</text>
<text x="121.85" y="340.9" font-size="6" fill="#333" text-anchor="middle" stroke="#333" stroke-width="0.12">20</text>
<text x="147.20" y="340.9" font-size="6" fill="#333" text-anchor="middle" stroke="#333" stroke-width="0.12">11</text>
<text x="119.2" y="253.3" font-size="6" fill="#333" text-anchor="middle" textLength="29.7" lengthAdjust="spacingAndGlyphs" stroke="#333" stroke-width="0.12">All patients</text>
<text x="119.0" y="260.9" font-size="6" fill="#333" text-anchor="middle" textLength="61.7" lengthAdjust="spacingAndGlyphs" stroke="#333" stroke-width="0.12">Median OS 9.5 months</text>
<text x="377.80" y="220.60" font-size="6" fill="#444" text-anchor="end" stroke="#444" stroke-width="0.12">100%</text>
<text x="377.80" y="237.82" font-size="6" fill="#444" text-anchor="end" stroke="#444" stroke-width="0.12">80%</text>
<text x="377.80" y="255.04" font-size="6" fill="#444" text-anchor="end" stroke="#444" stroke-width="0.12">60%</text>
<text x="377.80" y="272.26" font-size="6" fill="#444" text-anchor="end" stroke="#444" stroke-width="0.12">40%</text>
<text x="377.80" y="289.48" font-size="6" fill="#444" text-anchor="end" stroke="#444" stroke-width="0.12">20%</text>
<text x="377.80" y="306.70" font-size="6" fill="#444" text-anchor="end" stroke="#444" stroke-width="0.12">0%</text>
<text x="388.40" y="318.9" font-size="6" fill="#444" text-anchor="middle" stroke="#444" stroke-width="0.12">0.0</text>
<text x="413.75" y="318.9" font-size="6" fill="#444" text-anchor="middle" stroke="#444" stroke-width="0.12">0.5</text>
<text x="439.10" y="318.9" font-size="6" fill="#444" text-anchor="middle" stroke="#444" stroke-width="0.12">1.0</text>
<text x="464.45" y="318.9" font-size="6" fill="#444" text-anchor="middle" stroke="#444" stroke-width="0.12">1.5</text>
<text x="489.80" y="318.9" font-size="6" fill="#444" text-anchor="middle" stroke="#444" stroke-width="0.12">2.0</text>
<text x="448.90" y="330.4" font-size="8" font-weight="bold" fill="#2a2a2a" stroke="#2a2a2a" stroke-width="0.12" text-anchor="middle" textLength="31.6" lengthAdjust="spacingAndGlyphs">Time (years)</text>
<text x="356.30" y="261" font-size="6.6" font-weight="bold" fill="#333" text-anchor="middle" textLength="48" lengthAdjust="spacingAndGlyphs" transform="rotate(-90 356.30 261)">Survival probability</text>
<text x="360.80" y="340.9" font-size="5.8" fill="#333" textLength="16.2" lengthAdjust="spacingAndGlyphs" stroke="#333" stroke-width="0.12">At risk</text>
<text x="388.40" y="340.9" font-size="6" fill="#333" text-anchor="middle" stroke="#333" stroke-width="0.12">20</text>
<text x="413.75" y="340.9" font-size="6" fill="#333" text-anchor="middle" stroke="#333" stroke-width="0.12">6</text>
<text x="439.10" y="340.9" font-size="6" fill="#333" text-anchor="middle" stroke="#333" stroke-width="0.12">3</text>
<text x="464.45" y="340.9" font-size="6" fill="#333" text-anchor="middle" stroke="#333" stroke-width="0.12">0</text>
<text x="489.80" y="340.9" font-size="6" fill="#333" text-anchor="middle" stroke="#333" stroke-width="0.12">0</text>
<text x="449.7" y="256.8" font-size="6" fill="#333" text-anchor="middle" textLength="82.3" lengthAdjust="spacingAndGlyphs" stroke="#333" stroke-width="0.12">After venetoclax + HMA/LDAC</text>
<text x="449.1" y="263.8" font-size="6" fill="#333" text-anchor="middle" textLength="62.2" lengthAdjust="spacingAndGlyphs" stroke="#333" stroke-width="0.12">Median OS 4.5 months</text>
<text x="197.4" y="306.40" font-size="6" fill="#444" text-anchor="middle" stroke="#444" stroke-width="0.12">0</text>
<text x="197.4" y="267.96" font-size="6" fill="#444" text-anchor="middle" stroke="#444" stroke-width="0.12">2</text>
<text x="197.4" y="229.52" font-size="6" fill="#444" text-anchor="middle" stroke="#444" stroke-width="0.12">4</text>
<text x="222.95" y="320.6" font-size="6" fill="#444" text-anchor="middle" stroke="#444" stroke-width="0.12">0.5</text>
<text x="240.60" y="320.6" font-size="6" fill="#444" text-anchor="middle" stroke="#444" stroke-width="0.12">1.0</text>
<text x="258.25" y="320.6" font-size="6" fill="#444" text-anchor="middle" stroke="#444" stroke-width="0.12">1.5</text>
<text x="275.90" y="320.6" font-size="6" fill="#444" text-anchor="middle" stroke="#444" stroke-width="0.12">2.0</text>
<text x="293.55" y="320.6" font-size="6" fill="#444" text-anchor="middle" stroke="#444" stroke-width="0.12">2.5</text>
<text x="311.20" y="320.6" font-size="6" fill="#444" text-anchor="middle" stroke="#444" stroke-width="0.12">3.0</text>
<text x="328.85" y="320.6" font-size="6" fill="#444" text-anchor="middle" stroke="#444" stroke-width="0.12">3.5</text>
<text x="269.1" y="331.2" font-size="8" font-weight="bold" fill="#2a2a2a" stroke="#2a2a2a" stroke-width="0.12" text-anchor="middle" textLength="73" lengthAdjust="spacingAndGlyphs">Univariable hazard ratio (OS)</text>
<text x="190.6" y="255.1" font-size="6.4" fill="#333" text-anchor="middle" textLength="37.2" lengthAdjust="spacingAndGlyphs" transform="rotate(-90 190.6 255.1)" stroke="#333" stroke-width="0.12">−log10(<tspan font-style="italic">P</tspan>value)</text>
<text x="242.8" y="232.3" font-size="5" fill="#333" textLength="24.7" lengthAdjust="spacingAndGlyphs" stroke="#333" stroke-width="0.12">Age (10-yr)</text>
<text x="276.8" y="228.2" font-size="5" fill="#333" textLength="37.2" lengthAdjust="spacingAndGlyphs" stroke="#333" stroke-width="0.12">Low intensity 1st</text>
<text x="276.8" y="234.7" font-size="5" fill="#333" textLength="25.4" lengthAdjust="spacingAndGlyphs" stroke="#333" stroke-width="0.12">line therapy</text>
<text x="292.0" y="252.0" font-size="5" fill="#333" textLength="30.4" lengthAdjust="spacingAndGlyphs" stroke="#333" stroke-width="0.12">ECOG PS &gt;1</text>
<text x="248.7" y="257.0" font-size="5" fill="#333" textLength="35.0" lengthAdjust="spacingAndGlyphs" stroke="#333" stroke-width="0.12">Prior venetoclax</text>
<text x="212.0" y="256.3" font-size="5" fill="#333" textLength="5.5" lengthAdjust="spacingAndGlyphs" stroke="#333" stroke-width="0.12">+8</text>
<text x="218.8" y="261.8" font-size="5" fill="#333" font-style="italic" textLength="20.0" lengthAdjust="spacingAndGlyphs" stroke="#333" stroke-width="0.12">FLT3-ITD</text>
<text x="249.0" y="270.2" font-size="5" fill="#333" textLength="37.6" lengthAdjust="spacingAndGlyphs" stroke="#333" stroke-width="0.12">Normal karyotype</text>
<text x="290.8" y="274.2" font-size="5" fill="#333" textLength="41.7" lengthAdjust="spacingAndGlyphs" stroke="#333" stroke-width="0.12">Complex karyotype</text>
<text x="214.4" y="278.3" font-size="5" fill="#333" textLength="23.7" lengthAdjust="spacingAndGlyphs" stroke="#333" stroke-width="0.12">Prior <tspan font-style="italic">FLT3</tspan>i</text>
<text x="241.4" y="278.1" font-size="5" fill="#333" font-style="italic" textLength="14.3" lengthAdjust="spacingAndGlyphs" stroke="#333" stroke-width="0.12">NPM1</text>
<text x="246.4" y="287.1" font-size="5" fill="#333" font-style="italic" textLength="20.8" lengthAdjust="spacingAndGlyphs" stroke="#333" stroke-width="0.12">FLT3-TKD</text>
<text x="299.4" y="284.9" font-size="5" fill="#333" font-style="italic" textLength="17.3" lengthAdjust="spacingAndGlyphs" stroke="#333" stroke-width="0.12">KMT2Ar</text>
<text x="274.2" y="292.0" font-size="5" fill="#333" font-style="italic" textLength="14.7" lengthAdjust="spacingAndGlyphs" stroke="#333" stroke-width="0.12">ASXL1</text>
<text x="214.6" y="286.6" font-size="4.6" fill="#333" font-style="italic" stroke="#333" stroke-width="0.12">WT1</text>
</g>
<rect x="0.5" y="0.5" width="519" height="348" fill="none" stroke="#4a4a4a" stroke-width="1"/>
</svg></div></body></html>
